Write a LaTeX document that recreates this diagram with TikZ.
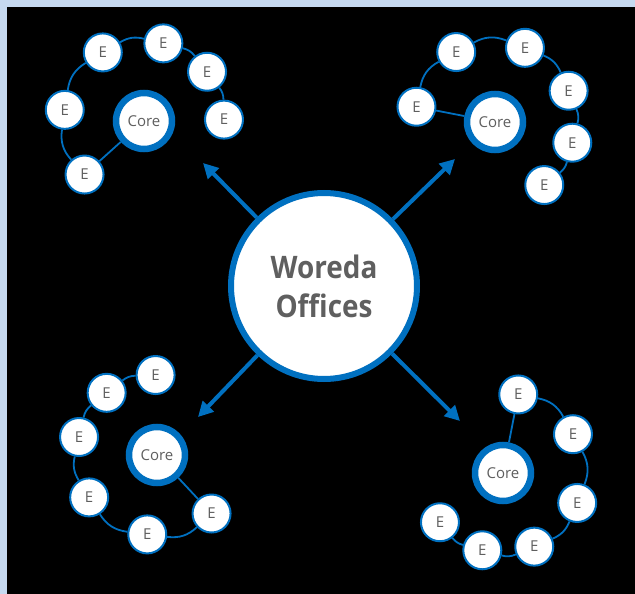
\documentclass[tikz,border=0pt]{standalone}
\usepackage{fontspec}
\setmainfont{Open Sans}
\newfontfamily\hubfont{Open Sans}[FakeStretch=0.9]
\usepackage{xcolor}
\usetikzlibrary{arrows.meta,calc}
\definecolor{offblue}{RGB}{0,112,192}
\definecolor{txtgray}{RGB}{95,95,95}
\definecolor{paleblue}{RGB}{198,217,240}

\begin{document}
\begin{tikzpicture}[x=1pt, y=-1pt, every node/.style={font=\fontsize{15}{17}\selectfont,text=txtgray}, hub/.style={circle,draw=offblue,fill=white,line width=6pt,minimum size=186pt,align=center,font=\hubfont\fontsize{31}{39}\selectfont\bfseries}, core/.style={circle,draw=offblue,fill=white,line width=6.5pt,minimum size=56pt,inner sep=0pt}, enode/.style={circle,draw=offblue,fill=white,line width=2pt,minimum size=38pt,inner sep=0pt}, link/.style={draw=offblue,line width=1.8pt}, arr/.style={-{Triangle[length=15pt,width=15pt]},draw=offblue,line width=4pt}]
% frame
\useasboundingbox (0,0) rectangle (635,594);
\fill[paleblue] (0,0) rectangle (635,594);
\fill[black] (7,7) rectangle (645,604);

% centre and the four arrows
\node[hub] (wo) at (324,286) {Woreda\\Offices};
\coordinate (tnw) at (203,163); \coordinate (tne) at (455,159);
\coordinate (tsw) at (198,417); \coordinate (tse) at (460,421);
\draw[arr] (wo)--(tnw); \draw[arr] (wo)--(tne);
\draw[arr] (wo)--(tsw); \draw[arr] (wo)--(tse);

% north-west cluster
\node[core] (ca) at (144,121) {Core};
\node[enode] (a1) at ($(ca)+(138:80)$) {E};
\node[enode] (a2) at ($(ca)+(188:80)$) {E};
\node[enode] (a3) at ($(ca)+(239:80)$) {E};
\node[enode] (a4) at ($(ca)+(284:80)$) {E};
\node[enode] (a5) at ($(ca)+(322:80)$) {E};
\node[enode] (a6) at ($(ca)+(359:80)$) {E};
\draw[link] (ca)--(a1);
\draw[link] (a1) to[bend left=25] (a2); \draw[link] (a2) to[bend left=25] (a3);
\draw[link] (a3) to[bend left=22] (a4); \draw[link] (a4) to[bend left=19] (a5);
\draw[link] (a5) to[bend left=18] (a6);

% north-east cluster
\node[core] (cb) at (495,122) {Core};
\node[enode] (b1) at ($(cb)+(191:80)$) {E};
\node[enode] (b2) at ($(cb)+(241:80)$) {E};
\node[enode] (b3) at ($(cb)+(292:80)$) {E};
\node[enode] (b4) at ($(cb)+(337:80)$) {E};
\node[enode] (b5) at ($(cb)+(15:80)$) {E};
\node[enode] (b6) at ($(cb)+(52:80)$) {E};
\draw[link] (cb)--(b1);
\draw[link] (b1) to[bend left=25] (b2); \draw[link] (b2) to[bend left=25] (b3);
\draw[link] (b3) to[bend left=22] (b4); \draw[link] (b4) to[bend left=19] (b5);
\draw[link] (b5) to[bend left=18] (b6);

% south-west cluster
\node[core] (cc) at (157,455) {Core};
\node[enode] (c1) at ($(cc)+(47:80)$) {E};
\node[enode] (c2) at ($(cc)+(97:80)$) {E};
\node[enode] (c3) at ($(cc)+(148:80)$) {E};
\node[enode] (c4) at ($(cc)+(193:80)$) {E};
\node[enode] (c5) at ($(cc)+(231:80)$) {E};
\node[enode] (c6) at ($(cc)+(269:80)$) {E};
\draw[link] (cc)--(c1);
\draw[link] (c1) to[bend left=25] (c2); \draw[link] (c2) to[bend left=25] (c3);
\draw[link] (c3) to[bend left=22] (c4); \draw[link] (c4) to[bend left=19] (c5);
\draw[link] (c5) to[bend left=18] (c6);

% south-east cluster
\node[core] (cd) at (503,473) {Core};
\node[enode] (d1) at ($(cd)+(281:80)$) {E};
\node[enode] (d2) at ($(cd)+(331:80)$) {E};
\node[enode] (d3) at ($(cd)+(22:80)$) {E};
\node[enode] (d4) at ($(cd)+(67:80)$) {E};
\node[enode] (d5) at ($(cd)+(105:80)$) {E};
\node[enode] (d6) at ($(cd)+(142:80)$) {E};
\draw[link] (cd)--(d1);
\draw[link] (d1) to[bend left=25] (d2); \draw[link] (d2) to[bend left=25] (d3);
\draw[link] (d3) to[bend left=22] (d4); \draw[link] (d4) to[bend left=19] (d5);
\draw[link] (d5) to[bend left=18] (d6);
\end{tikzpicture}
\end{document}
